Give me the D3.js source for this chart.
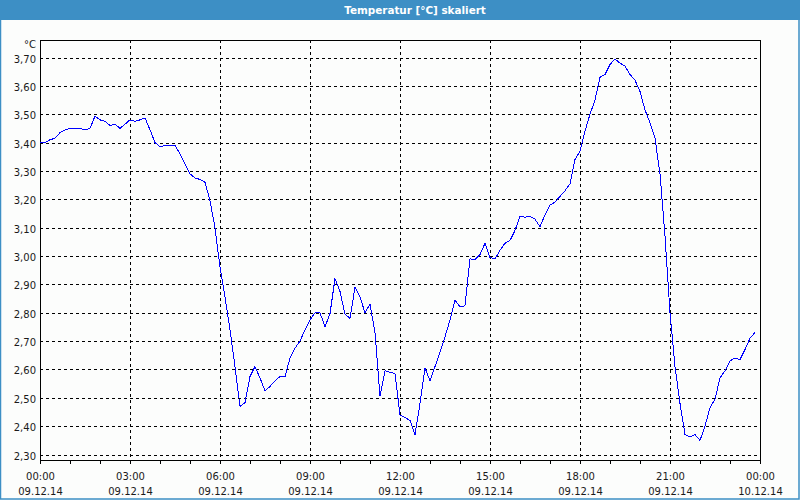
<!DOCTYPE html>
<html>
<head>
<meta charset="utf-8">
<script src="https://cdn.jsdelivr.net/npm/d3@7"></script>
<style>
html,body{margin:0;padding:0;background:#fff;}
svg{display:block;}
</style>
</head>
<body>
<svg id="chart" width="800" height="500"></svg>
<script>
// ---- data ----
const title = "Temperatur [°C] skaliert";
const unitLabel = "°C";
const startTime = "2014-12-09T00:00:00";
const endTime = "2014-12-10T00:00:00";
const sampleMinutes = 10;
const values = [
  3.40, 3.40, 3.41, 3.415, 3.435, 3.445, 3.45, 3.45, 3.45, 3.445,
  3.45, 3.493, 3.48, 3.475, 3.46, 3.465, 3.45, 3.465, 3.48, 3.475,
  3.48, 3.487, 3.445, 3.40, 3.385, 3.39, 3.39, 3.39, 3.36, 3.325,
  3.29, 3.275, 3.27, 3.26, 3.195, 3.10, 2.96, 2.855, 2.74, 2.61,
  2.47, 2.483, 2.575, 2.61, 2.57, 2.525, 2.54, 2.56, 2.575, 2.575,
  2.64, 2.675, 2.70, 2.74, 2.775, 2.80, 2.80, 2.75, 2.797, 2.92,
  2.875, 2.795, 2.78, 2.89, 2.855, 2.80, 2.83, 2.73, 2.505, 2.595,
  2.59, 2.585, 2.44, 2.43, 2.42, 2.37, 2.48, 2.605, 2.56, 2.61,
  2.66, 2.715, 2.775, 2.845, 2.82, 2.825, 2.99, 2.987, 3.005, 3.045,
  2.995, 2.99, 3.02, 3.045, 3.055, 3.09, 3.14, 3.137, 3.14, 3.13,
  3.103, 3.145, 3.18, 3.19, 3.21, 3.23, 3.255, 3.34, 3.37, 3.44,
  3.50, 3.55, 3.63, 3.64, 3.675, 3.695, 3.68, 3.67, 3.64, 3.62,
  3.58, 3.515, 3.47, 3.415, 3.29, 3.07, 2.80, 2.61, 2.48, 2.37,
  2.362, 2.37, 2.35, 2.40, 2.465, 2.495, 2.57, 2.595, 2.63, 2.64,
  2.635, 2.67, 2.71, 2.73
];
const yTicks = [2.30, 2.40, 2.50, 2.60, 2.70, 2.80, 2.90, 3.00, 3.10, 3.20, 3.30, 3.40, 3.50, 3.60, 3.70];
const yDomain = [2.30, 3.70];

// ---- layout ----
const W = 800, H = 500;
const plot = {left: 40, top: 40, right: 760, bottom: 460};
const svg = d3.select("#chart");
const font = "'DejaVu Sans', Verdana, sans-serif";

const t0 = new Date(startTime), t1 = new Date(endTime);
const data = values.map((v, i) => ({t: new Date(t0.getTime() + i * sampleMinutes * 60000), v}));

const x = d3.scaleTime().domain([t0, t1]).range([plot.left, plot.right]);
const y = d3.scaleLinear().domain(yDomain).range([454.5, 57.5]);

// window
svg.append("rect").attr("x", 0).attr("y", 0).attr("width", W).attr("height", H).attr("fill", "#fcfdfc");
svg.append("rect").attr("x", 0.5).attr("y", 0.5).attr("width", W - 1.5).attr("height", H - 1.5)
  .attr("fill", "none").attr("stroke", "#3d8fc5").attr("stroke-width", 1.5);
svg.append("rect").attr("x", 0).attr("y", 0).attr("width", W).attr("height", 20).attr("fill", "#3d8fc5");
svg.append("text").attr("x", 415).attr("y", 14).attr("text-anchor", "middle")
  .attr("font-family", font).attr("font-weight", "bold").attr("font-size", "10.4px")
  .attr("fill", "#ffffff").text(title);

// grid
const px = v => Math.round(v) + 0.5;
const grid = svg.append("g").attr("stroke", "#000").attr("stroke-width", 1)
  .attr("stroke-dasharray", "3,3").attr("shape-rendering", "crispEdges");
grid.selectAll("line.h").data(yTicks).join("line").attr("class", "h")
  .attr("x1", plot.left).attr("x2", plot.right)
  .attr("y1", d => px(y(d))).attr("y2", d => px(y(d)));
const majorTimes = d3.timeHour.every(3).range(d3.timeHour.offset(t0, 3), t1);
grid.selectAll("line.v").data(majorTimes).join("line").attr("class", "v")
  .attr("y1", plot.top).attr("y2", plot.bottom)
  .attr("x1", d => px(x(d))).attr("x2", d => px(x(d)));

// frame
svg.append("rect").attr("x", plot.left + 0.5).attr("y", plot.top + 0.5)
  .attr("width", plot.right - plot.left).attr("height", plot.bottom - plot.top)
  .attr("fill", "none").attr("stroke", "#000").attr("shape-rendering", "crispEdges");

// x ticks
const hourTimes = d3.timeHour.every(1).range(t0, d3.timeHour.offset(t1, 1));
svg.append("g").attr("stroke", "#000").attr("shape-rendering", "crispEdges")
  .selectAll("line").data(hourTimes).join("line")
  .attr("x1", d => px(x(d))).attr("x2", d => px(x(d)))
  .attr("y1", plot.bottom).attr("y2", plot.bottom + 4);

const labelTimes = d3.timeHour.every(3).range(t0, d3.timeHour.offset(t1, 1));
const fmtTime = d3.timeFormat("%H:%M"), fmtDate = d3.timeFormat("%d.%m.%y");
const xl = svg.append("g").attr("font-family", font).attr("font-size", "10px").attr("fill", "#1a1a1a")
  .attr("text-anchor", "middle");
xl.selectAll("text.tm").data(labelTimes).join("text").attr("class", "tm")
  .attr("x", d => x(d) + 0.5).attr("y", 479.5).text(fmtTime);
xl.selectAll("text.dt").data(labelTimes).join("text").attr("class", "dt")
  .attr("x", d => x(d) + 0.5).attr("y", 494.5).text(fmtDate);

// y labels
const fmtY = v => v.toFixed(2).replace(".", ",");
const yl = svg.append("g").attr("font-family", font).attr("font-size", "10px").attr("fill", "#1a1a1a")
  .attr("text-anchor", "end");
yl.selectAll("text").data(yTicks).join("text")
  .attr("x", 36).attr("y", d => Math.round(y(d)) + 4.5).text(fmtY);
yl.append("text").attr("x", 36).attr("y", 48).text(unitLabel);

// line
const line = d3.line().x(d => x(d.t)).y(d => y(d.v));
svg.append("path").datum(data).attr("d", line)
  .attr("fill", "none").attr("stroke", "#0000ff").attr("stroke-width", 1)
  .attr("shape-rendering", "crispEdges");
</script>
</body>
</html>
